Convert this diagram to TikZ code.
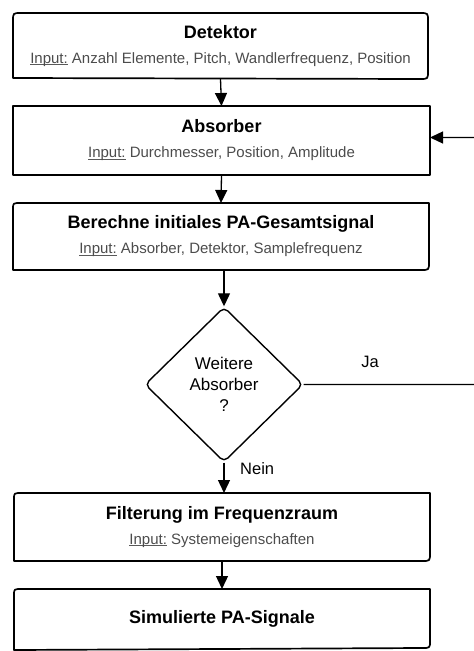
\documentclass[tikz,border=0pt]{standalone}
\usepackage{fontspec}
\setmainfont{Liberation Sans}
\usetikzlibrary{shapes.geometric,arrows.meta,calc}
\tikzset{
  boxnode/.style={align=center, inner sep=0pt, outer sep=0pt, minimum width=416pt,
    font=\fontsize{15}{25}\selectfont},
  outline/.style={line width=1.7pt, line join=round, black},
  flow/.style={line width=1.3pt, -{Triangle[length=13pt,width=12pt]}},
  lbl/.style={font=\fontsize{16.5}{18}\selectfont, inner sep=0pt}
}
\newcommand{\ttl}[1]{{\fontsize{18}{25}\selectfont\bfseries #1}}
\newcommand{\ulin}[1]{\setbox0\hbox{#1}\rlap{\color[gray]{0.35}\rule[-1.6pt]{\wd0}{0.7pt}}\box0\relax}
\newcommand{\inp}[1]{{\fontsize{15}{25}\selectfont\ulin{\color[gray]{0.3}Input:} #1}}
\begin{document}
\begin{tikzpicture}[x=1pt,y=-1pt]
\useasboundingbox (0,0) rectangle (474,651);
\clip (0,0) rectangle (474,651);

% nodes
\node[boxnode, minimum width=415pt, minimum height=66pt] (det) at (220.5,46)
  {\ttl{Detektor}\\\inp{Anzahl Elemente, Pitch, Wandlerfrequenz, Position}};
\coordinate (detb) at (220.5,78);
\node[boxnode, minimum width=417pt, minimum height=69pt] (abs) at (221.5,140.5)
  {\ttl{Absorber}\\\inp{Durchmesser, Position, Amplitude}};
\node[boxnode, minimum height=67pt] (ber) at (221,236.5)
  {\ttl{Berechne initiales PA-Gesamtsignal}\\\inp{Absorber, Detektor, Samplefrequenz}};
\node[diamond, draw, outline, line width=1.4pt, rounded corners=5pt, aspect=1,
      minimum width=158pt, minimum height=155pt, inner sep=0pt, align=center,
      font=\fontsize{17}{21}\selectfont] (dec) at (224,384.5)
  {Weitere\\Absorber\\?};
\node[boxnode, minimum height=68pt] (fil) at (222,527)
  {\ttl{Filterung im Frequenzraum}\\\inp{Systemeigenschaften}};
\node[boxnode, minimum height=60pt] (fin) at (222,619)
  {\ttl{Simulierte PA-Signale}};

\node[lbl] (ja) at (370,362) {Ja};
\node[lbl, anchor=west] (nein) at (240,469) {Nein};

% outlines
\draw[outline] ([yshift=1pt]det.south west) -- ([yshift=-8pt]det.north west)
  .. controls (det.north west) .. ([xshift=8pt]det.north west)
  -- ([xshift=-8pt]det.north east) .. controls (det.north east) .. ([yshift=-8pt]det.north east)
  -- ([yshift=8pt]det.south east) .. controls (det.south east) .. ([xshift=-8pt]det.south east)
  -- cycle;
\draw[outline] (abs.south west) rectangle (abs.north east);
\draw[outline] (ber.south west) -- ([yshift=-6pt]ber.north west)
  .. controls (ber.north west) .. ([xshift=8pt]ber.north west)
  -- (ber.north east)
  -- ([yshift=8pt]ber.south east) .. controls (ber.south east) .. ([xshift=-8pt]ber.south east)
  -- cycle;
\draw[outline] (fil.south west) -- ([yshift=-6pt]fil.north west)
  .. controls (fil.north west) .. ([xshift=8pt]fil.north west)
  -- (fil.north east)
  -- ([yshift=8pt]fil.south east) .. controls (fil.south east) .. ([xshift=-8pt]fil.south east)
  -- cycle;
\draw[outline] ([yshift=-1pt]fin.south west) -- ([yshift=-6pt]fin.north west)
  .. controls (fin.north west) .. ([xshift=8pt]fin.north west)
  -- (fin.north east)
  -- ([yshift=8pt]fin.south east) .. controls ([yshift=1pt]fin.south east) .. ([xshift=-8pt,yshift=1pt]fin.south east)
  -- cycle;

% connectors
\draw[flow] (det.south) -- (abs.north);
\draw[flow] (abs.south) -- (ber.north);
\draw[flow] (dec.north |- ber.south) -- (dec.north);
\draw[flow] (dec.south) -- (dec.south |- fil.north);
\draw[flow] (fil.south) -- (fin.north);
\coordinate (loop) at (484,0);
\draw[flow, rounded corners=10pt] (dec.east) -- (dec.east -| loop) -- ([yshift=3pt]abs.east -| loop) -- ([yshift=3pt]abs.east);
\end{tikzpicture}
\end{document}
